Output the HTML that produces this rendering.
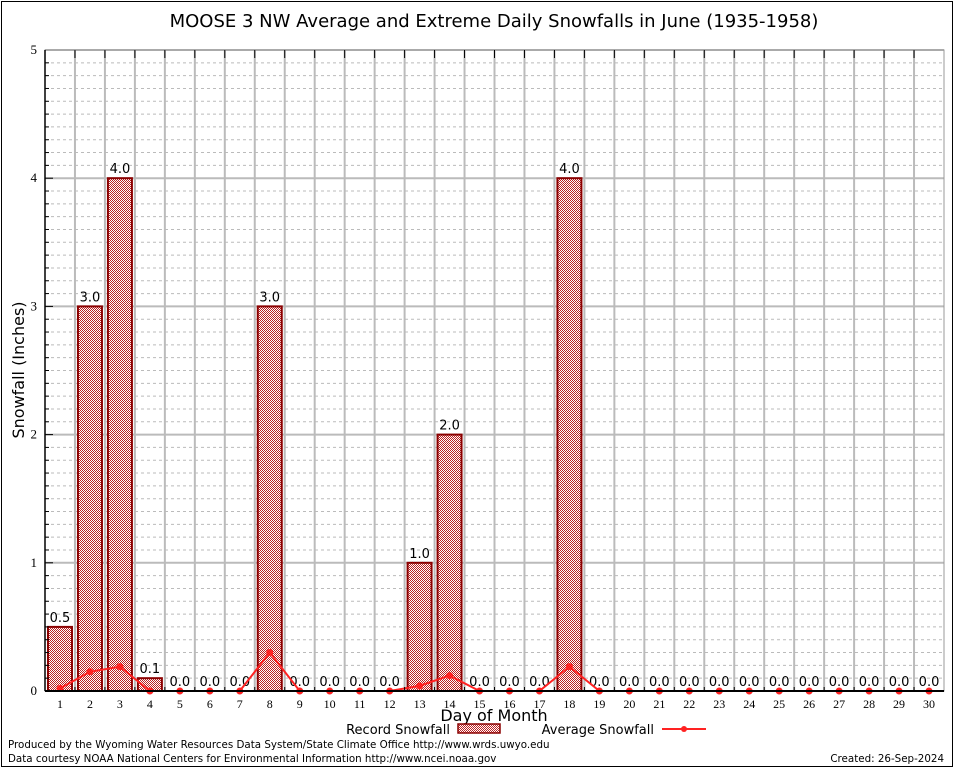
<!DOCTYPE html>
<html><head><meta charset="utf-8"><style>
body{margin:0;background:#fff;width:954px;height:768px;overflow:hidden}
svg{display:block;font-family:"DejaVu Sans","Liberation Sans",sans-serif}
</style></head><body>
<svg id="chart" width="954" height="768">
<defs>
<pattern id="chk" width="2" height="2" patternUnits="userSpaceOnUse">
<rect width="2" height="2" fill="#fff"/><rect width="1" height="1" fill="#b22"/><rect x="1" y="1" width="1" height="1" fill="#b22"/>
</pattern>
</defs>
<rect x="1.5" y="1.5" width="951" height="765" fill="none" stroke="#000"/>
<text x="494" y="27" font-size="18" text-anchor="middle">MOOSE 3 NW Average and Extreme Daily Snowfalls in June (1935-1958)</text>
<g id="grid"></g>
<g id="bars"></g>
<g id="line"></g>
<g id="axes"></g>
<text x="24" y="370" font-size="16" text-anchor="middle" transform="rotate(-90 24 370)">Snowfall (Inches)</text>
<text x="494" y="721" font-size="16" text-anchor="middle">Day of Month</text>
<g font-size="13">
<text x="450" y="734" text-anchor="end">Record Snowfall</text>
<rect x="458" y="724" width="42" height="9" fill="url(#chk)" stroke="#8b0000" stroke-width="1.5"/>
<text x="654" y="734" text-anchor="end">Average Snowfall</text>
<line x1="662" y1="729" x2="706" y2="729" stroke="#f22" stroke-width="2"/>
<circle cx="684" cy="729" r="3" fill="#f22"/>
</g>
<text x="8" y="748" font-size="10.3">Produced by the Wyoming Water Resources Data System/State Climate Office http://www.wrds.uwyo.edu</text>
<text x="8" y="762" font-size="10.3">Data courtesy NOAA National Centers for Environmental Information http://www.ncei.noaa.gov</text>
<text x="944" y="762" font-size="10.3" text-anchor="end">Created:  26-Sep-2024</text>
</svg>
<script>
const days=[1,2,3,4,5,6,7,8,9,10,11,12,13,14,15,16,17,18,19,20,21,22,23,24,25,26,27,28,29,30];
const recordSnow=[0.5,3.0,4.0,0.1,0,0,0,3.0,0,0,0,0,1.0,2.0,0,0,0,4.0,0,0,0,0,0,0,0,0,0,0,0,0];
const avgSnow=[0.02,0.15,0.19,0,0,0,0,0.3,0,0,0,0,0.04,0.12,0,0,0,0.19,0,0,0,0,0,0,0,0,0,0,0,0];
const yTicks=[0,1,2,3,4,5];
const NS="http://www.w3.org/2000/svg";
const L=45,R=944,T=50,B=691,yMax=5;
const bw=(R-L)/days.length;
const xs=i=>L+bw*(i+0.5);
const ys=v=>B-(v/yMax)*(B-T);
function mk(tag,at,parent){const e=document.createElementNS(NS,tag);for(const k in at)e.setAttribute(k,at[k]);document.getElementById(parent).appendChild(e);return e;}
for(let k=1;k<yMax*10;k++){if(k%10===0)continue;const g=mk('line',{x1:L,x2:R,y1:ys(k/10),y2:ys(k/10),stroke:'#bbb','stroke-dasharray':'3,3'},'grid');

}
for(let i=1;i<days.length;i++){const g=mk('line',{x1:L+bw*i,x2:L+bw*i,y1:T,y2:B,stroke:'#bbb','stroke-width':2},'grid');

}
yTicks.forEach(t=>{if(t===0)return;const g=mk('line',{x1:L,x2:R,y1:ys(t),y2:ys(t),stroke:'#bbb','stroke-width':2},'grid');

});
days.forEach((d,i)=>{const v=recordSnow[i];
if(v>0){const b=mk('rect',{x:xs(i)-12,y:ys(v),width:24,height:B-ys(v),fill:'url(#chk)',stroke:'#8b0000','stroke-width':2},'bars');

}
const t=mk('text',{x:xs(i),y:ys(v)-5,'font-size':13,'text-anchor':'middle'},'bars');t.textContent=v.toFixed(1);

});
const p=mk('polyline',{points:avgSnow.map((v,i)=>xs(i)+','+ys(v)).join(' '),fill:'none',stroke:'#f22','stroke-width':2},'line');


avgSnow.forEach((v,i)=>{const c=mk('circle',{cx:xs(i),cy:ys(v),r:3.5,fill:'#f22'},'line');

});
const fr=mk('rect',{x:L,y:T,width:R-L,height:B-T,fill:'none',stroke:'#999'},'axes');


const ax=mk('line',{x1:L,x2:R,y1:B,y2:B,stroke:'#000','stroke-width':2},'axes');


const ay=mk('line',{x1:L,x2:L,y1:T,y2:B,stroke:'#000','stroke-width':1.5},'axes');


for(let k=1;k<yMax*10;k++){const l=mk('line',{x1:L,x2:L+(k%10===0?8:4),y1:ys(k/10),y2:ys(k/10),stroke:'#000'},'axes');

}
for(let i=1;i<days.length;i++){[[B,B-4],[T,T+8]].forEach(([a,b])=>{const l=mk('line',{x1:L+bw*i,x2:L+bw*i,y1:a,y2:b,stroke:'#000'},'axes');

});}
yTicks.forEach(t=>{const e=mk('text',{x:L-8,y:ys(t)+4,'font-size':13,'text-anchor':'end','font-family':'Liberation Serif, serif'},'axes');e.textContent=t;

});
days.forEach((d,i)=>{const e=mk('text',{x:xs(i),y:B+17,'font-size':12,'text-anchor':'middle','font-family':'Liberation Serif, serif'},'axes');e.textContent=d;

});
</script>
</body></html>
